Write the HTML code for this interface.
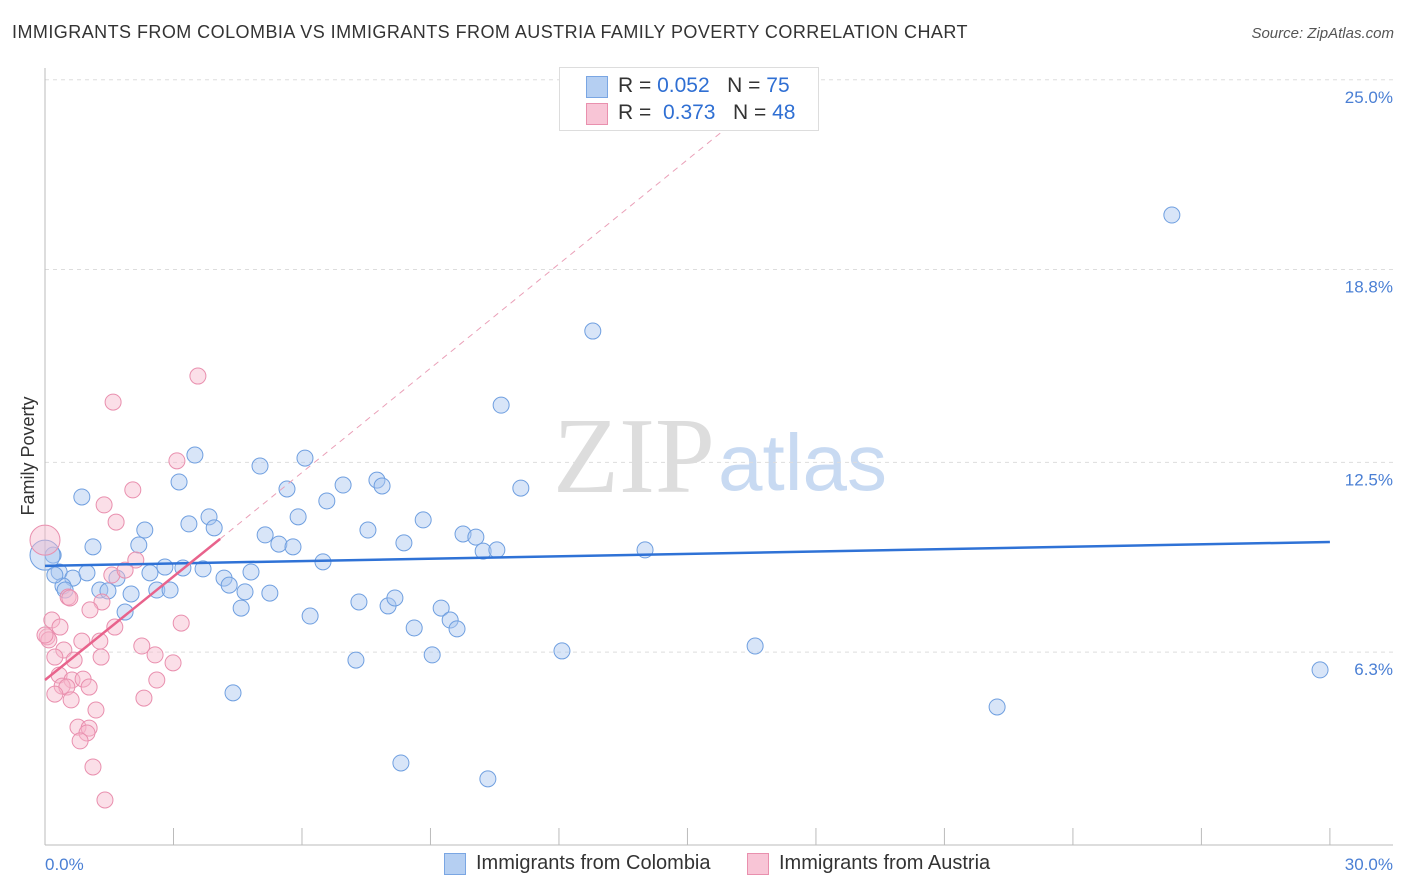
<!DOCTYPE html>
<html><head><meta charset="utf-8"><style>
body{margin:0;background:#fff;font-family:"Liberation Sans",sans-serif;}
#wrap{position:relative;width:1406px;height:892px;overflow:hidden}
.t{position:absolute;white-space:nowrap}
</style></head><body>
<div id="wrap">
<div class="t" style="left:12px;top:22px;font-size:18px;letter-spacing:0.45px;color:#333">IMMIGRANTS FROM COLOMBIA VS IMMIGRANTS FROM AUSTRIA FAMILY POVERTY CORRELATION CHART</div>
<div class="t" style="right:12px;top:25px;font-size:15px;color:#555;font-style:italic">Source: ZipAtlas.com</div>
<svg id="svg" width="1406" height="892" style="position:absolute;left:0;top:0"></svg>
</div>
<script>
const blueX=[26.31,12.79,10.65,3.50,5.02,6.07,3.13,5.65,7.75,7.87,6.96,6.58,11.11,0.86,3.36,3.83,3.95,5.91,8.83,7.54,5.14,5.46,5.79,2.33,2.19,1.12,8.38,9.76,10.06,10.23,10.55,14.01,6.49,2.80,3.22,3.69,4.81,4.18,4.30,2.45,0.33,0.65,0.98,1.68,0.19,0.0,0.42,1.28,1.47,2.01,2.61,2.92,4.67,5.25,4.58,7.33,8.01,8.17,9.25,9.46,9.62,8.62,1.87,6.19,12.07,7.26,9.04,16.58,29.77,4.39,22.23,8.31,10.34,0.23,0.47];
const blueY=[20.58,16.79,14.37,12.74,12.38,12.64,11.86,11.63,11.92,11.73,11.76,11.24,11.66,11.37,10.49,10.72,10.36,10.72,10.62,10.29,10.13,9.83,9.74,10.29,9.80,9.74,9.87,10.16,10.06,9.60,9.64,9.64,9.25,9.08,9.05,9.02,8.92,8.72,8.49,8.89,8.92,8.72,8.89,8.72,9.47,9.47,8.46,8.33,8.30,8.20,8.33,8.33,8.27,8.23,7.74,7.94,7.81,8.07,7.74,7.35,7.06,7.09,7.61,7.48,6.34,6.04,6.21,6.50,5.72,4.97,4.51,2.68,2.16,8.82,8.33];
const pinkX=[3.57,1.59,3.08,2.05,1.38,1.66,2.12,1.56,0.54,0.58,1.33,1.05,1.63,0.16,3.18,0.05,0.09,0.86,1.28,2.26,0.44,2.57,0.23,0.68,1.31,2.99,0.33,0.63,0.89,2.61,0.40,1.03,0.51,0.23,0.61,2.31,1.19,0.77,1.03,0.98,0.82,1.12,1.40,0.0,0.0,0.35,1.87];
const pinkY=[15.32,14.47,12.55,11.60,11.11,10.55,9.31,8.82,8.10,8.07,7.94,7.68,7.12,7.35,7.25,6.80,6.70,6.66,6.66,6.50,6.37,6.21,6.14,6.04,6.14,5.95,5.55,5.39,5.42,5.39,5.19,5.16,5.16,4.93,4.74,4.80,4.41,3.85,3.82,3.66,3.40,2.55,1.47,9.96,6.86,7.12,8.98];
const yTicks=[25.0,18.8,12.5,6.3];
const yTickLabels=["25.0%","18.8%","12.5%","6.3%"];
const xTicks=[0,3,6,9,12,15,18,21,24,27,30];
const blueTrend=[[0,9.12],[30,9.90]];
const pinkTrend=[[0,5.39],[4.09,10.0]];
const pinkDash=[[4.09,10.0],[17.3,25.0]];

const X=v=>45+v*42.83, Y=v=>845-v*30.61;
const svg=document.getElementById('svg');
const NS='http://www.w3.org/2000/svg';
function mk(tag,attrs){const e=document.createElementNS(NS,tag);for(const k in attrs)e.setAttribute(k,attrs[k]);svg.appendChild(e);return e;}
let w=mk('text',{x:553,y:492,'font-family':'Liberation Serif,serif','font-size':108,fill:'#ddd'});w.textContent='ZIP';


w=mk('text',{x:718,y:490,'font-family':'Liberation Sans,sans-serif','font-size':80,fill:'#c8daf2'});w.textContent='atlas';


yTicks.forEach((t,i)=>{
 const g=mk('line',{x1:45,x2:1393,y1:Y(t),y2:Y(t),stroke:'#ddd','stroke-dasharray':'4,4'});
 
 
 const l=mk('text',{x:1393,y:Y(t)+23,'text-anchor':'end','font-size':17,fill:'#4a7fd4','font-family':'Liberation Sans,sans-serif'});
 l.textContent=yTickLabels[i];
 
 
});
let a=mk('line',{x1:45,x2:45,y1:68,y2:845,stroke:'#bbb'});


a=mk('line',{x1:45,x2:1393,y1:845,y2:845,stroke:'#bbb'});


xTicks.forEach(t=>{const k=mk('line',{x1:X(t),x2:X(t),y1:828,y2:845,stroke:'#bbb'});
 
 });
[[0,'0.0%',45,'start'],[30,'30.0%',1393,'end']].forEach(d=>{const l=mk('text',{x:d[2],y:870,'text-anchor':d[3],'font-size':17,fill:'#4a7fd4','font-family':'Liberation Sans,sans-serif'});l.textContent=d[1];
 
 });
let yl=mk('text',{x:34,y:456,'text-anchor':'middle','font-size':18,fill:'#333',transform:'rotate(-90 34 456)','font-family':'Liberation Sans,sans-serif'});yl.textContent='Family Poverty';


function pts(xs,ys,fill,stroke,name){xs.forEach((x,i)=>{const big=(x===0&&(ys[i]>9.4&&ys[i]<10));const c=mk('circle',{cx:X(x),cy:Y(ys[i]),r:big?15:8,fill:fill,stroke:stroke,'stroke-width':1,'fill-opacity':0.45});
 
 });}
pts(blueX,blueY,'#a9c6ef','#6f9fe0','colombia-point');
pts(pinkX,pinkY,'#f6b9cd','#e98fae','austria-point');
let ln=mk('line',{x1:X(blueTrend[0][0]),y1:Y(blueTrend[0][1]),x2:X(blueTrend[1][0]),y2:Y(blueTrend[1][1]),stroke:'#2f72d6','stroke-width':2.5});


ln=mk('line',{x1:X(pinkTrend[0][0]),y1:Y(pinkTrend[0][1]),x2:X(pinkTrend[1][0]),y2:Y(pinkTrend[1][1]),stroke:'#e8638c','stroke-width':2.5});


ln=mk('line',{x1:X(pinkDash[0][0]),y1:Y(pinkDash[0][1]),x2:X(pinkDash[1][0]),y2:Y(pinkDash[1][1]),stroke:'#eaa0b8','stroke-width':1,'stroke-dasharray':'6,5'});


</script>
<div class="t" style="left:559px;top:67px;width:258px;height:62px;border:1px solid #ddd;background:#fff">
 <div class="t" style="left:26px;top:8px;width:20px;height:20px;background:#b5cff2;border:1px solid #7aa6e3"></div>
 <div class="t" style="left:58px;top:6px;font-size:21px;color:#333">R = <span style="color:#2f6fd3">0.052</span>&nbsp;&nbsp;&nbsp;N = <span style="color:#2f6fd3">75</span></div>
 <div class="t" style="left:26px;top:35px;width:20px;height:20px;background:#f8c5d6;border:1px solid #e990ae"></div>
 <div class="t" style="left:58px;top:33px;font-size:21px;color:#333">R = &nbsp;<span style="color:#2f6fd3">0.373</span>&nbsp;&nbsp;&nbsp;N = <span style="color:#2f6fd3">48</span></div>
</div>
<div class="t" style="left:444px;top:853px;width:20px;height:20px;background:#b5cff2;border:1px solid #7aa6e3"></div>
<div class="t" style="left:476px;top:852px;font-size:20px;color:#333">Immigrants from Colombia</div>
<div class="t" style="left:747px;top:853px;width:20px;height:20px;background:#f8c5d6;border:1px solid #e990ae"></div>
<div class="t" style="left:779px;top:852px;font-size:20px;color:#333">Immigrants from Austria</div>
</body></html>
